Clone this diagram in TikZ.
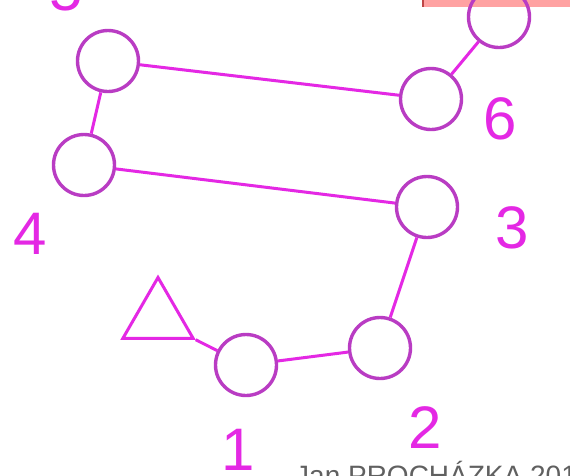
\documentclass[tikz,border=0pt]{standalone}
\usepackage{fontspec}
\setmainfont{Liberation Sans}
\usetikzlibrary{shapes.geometric}
\definecolor{ring}{RGB}{185,60,195}
\definecolor{mag}{RGB}{228,40,228}
\definecolor{tag}{RGB}{255,162,162}
\definecolor{tagedge}{RGB}{190,70,70}
\begin{document}
\begin{tikzpicture}[x=1pt,y=-1pt,
ball/.style={draw=ring,line width=3.4pt,circle,minimum size=61pt,inner sep=0pt},
num/.style={text=mag,font=\fontsize{60}{60}\selectfont,inner sep=0pt},
bond/.style={draw=mag,line width=3pt}]
\clip (0,0) rectangle (570,475);
\fill[white] (0,0) rectangle (570,475);
% pink tag at the top edge
\fill[tag] (422,-5) rectangle (575,7);
\draw[tagedge,line width=2pt] (423,-5) -- (423,7);
% residues
\node[ball] (c5) at (108,61) {};
\node[ball] (c7) at (499,17) {};
\node[ball] (c6) at (431,99) {};
\node[ball] (c4) at (84,165) {};
\node[ball] (c3) at (427,207) {};
\node[ball] (c2) at (380,348) {};
\node[ball] (c1) at (246,365) {};
\node[draw=mag,line width=3pt,regular polygon,regular polygon sides=3,minimum size=81pt,inner sep=0pt] (tri) at (158,318) {};
% bonds
\draw[bond] (c5) -- (c6);
\draw[bond] (c6) -- (c7);
\draw[bond] (c5) -- (c4);
\draw[bond] (c4) -- (c3);
\draw[bond] (c3) -- (c2);
\draw[bond] (c2) -- (c1);
\draw[bond] (tri.corner 3) -- (c1);
% numbers
\node[num] (n5) at (66,-10) {5};
\node[num] (n6) at (500,119) {6};
\node[num] (n4) at (30,234) {4};
\node[num] (n3) at (512,228) {3};
\node[num] (n2) at (425,428) {2};
\node[num] (n1) at (238,450) {1};
\node[anchor=base west,text=gray!75!black,font=\fontsize{28}{28}\selectfont,inner sep=0pt] (sig) at (295,485) {Jan PROCHÁZKA 2015};
\end{tikzpicture}
\end{document}
